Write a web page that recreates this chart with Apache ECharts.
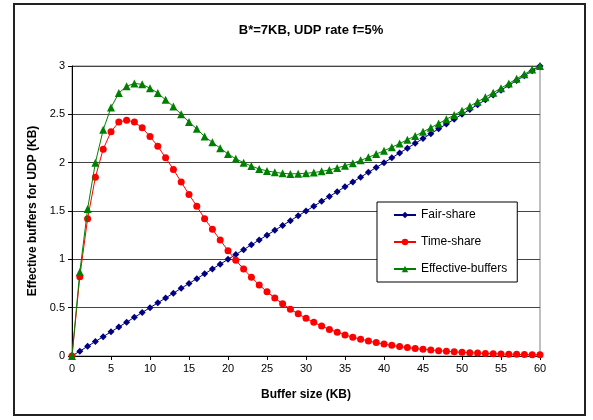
<!DOCTYPE html>
<html><head><meta charset="utf-8">
<script src="https://cdn.jsdelivr.net/npm/echarts@6/dist/echarts.min.js"></script>
<style>html,body{margin:0;padding:0;background:#fff}#c{width:593px;height:420px}</style>
</head><body><div id="c"></div>
<script>
var bufferSize = [0,1,2,3,4,5,6,7,8,9,10,11,12,13,14,15,16,17,18,19,20,21,22,23,24,25,26,27,28,29,30,31,32,33,34,35,36,37,38,39,40,41,42,43,44,45,46,47,48,49,50,51,52,53,54,55,56,57,58,59,60];
var fairShare = [0,0.05,0.1,0.15,0.2,0.25,0.3,0.35,0.4,0.45,0.5,0.55,0.6,0.65,0.7,0.75,0.8,0.85,0.9,0.95,1.0,1.05,1.1,1.15,1.2,1.25,1.3,1.35,1.4,1.45,1.5,1.55,1.6,1.65,1.7,1.75,1.8,1.85,1.9,1.95,2.0,2.05,2.1,2.15,2.2,2.25,2.3,2.35,2.4,2.45,2.5,2.55,2.6,2.65,2.7,2.75,2.8,2.85,2.9,2.95,3.0];
var timeShare = [0,0.82,1.42,1.85,2.14,2.32,2.42,2.44,2.42,2.36,2.27,2.17,2.05,1.93,1.80,1.67,1.55,1.42,1.31,1.20,1.09,0.99,0.90,0.815,0.735,0.665,0.60,0.54,0.484,0.436,0.39,0.348,0.31,0.275,0.246,0.218,0.194,0.174,0.155,0.139,0.123,0.110,0.097,0.087,0.077,0.069,0.062,0.055,0.049,0.043,0.038,0.034,0.030,0.027,0.024,0.021,0.019,0.017,0.015,0.013,0.012];
var effectiveBuffers = [0,0.87,1.52,2.00,2.34,2.57,2.72,2.79,2.82,2.81,2.77,2.72,2.65,2.58,2.50,2.42,2.35,2.27,2.21,2.15,2.09,2.04,2.00,1.965,1.935,1.915,1.90,1.89,1.884,1.886,1.89,1.898,1.91,1.925,1.946,1.968,1.994,2.024,2.055,2.089,2.123,2.16,2.197,2.237,2.277,2.319,2.362,2.405,2.449,2.493,2.538,2.584,2.63,2.677,2.724,2.771,2.819,2.867,2.915,2.963,3.0];
var seriesNames = ['Fair-share','Time-share','Effective-buffers'];
var titleText = 'B*=7KB, UDP rate f=5%';
var xName = 'Buffer size (KB)';
var yName = 'Effective buffers for UDP (KB)';

function pairs(ys){ return bufferSize.map(function(x,i){return [x, ys[i]];}); }
var FONT = '"Liberation Sans", Arial, sans-serif';
var chart = echarts.init(document.getElementById('c'), null, {renderer:'canvas'});
chart.setOption({
  animation:false,
  backgroundColor:'#fff',
  title:{text:titleText,left:306,textAlign:'center',top:19,
    textStyle:{fontFamily:FONT,fontSize:13,fontWeight:'bold',color:'#000'}},
  graphic:[{type:'rect',shape:{x:14,y:4,width:571,height:411},
    style:{fill:'none',stroke:'#222',lineWidth:2},silent:true}],
  grid:{left:72,right:53,top:66,bottom:64,show:true,borderColor:'#808080',borderWidth:1},
  legend:{orient:'vertical',left:377,top:202,width:140,height:80,
    padding:[7,10,7,16],itemGap:15,itemWidth:22,itemHeight:8,
    backgroundColor:'#fff',borderColor:'#000',borderWidth:1,
    textStyle:{fontFamily:FONT,fontSize:12,color:'#000',width:100},
    data:seriesNames},
  xAxis:{type:'value',min:0,max:60,interval:5,name:xName,nameLocation:'middle',nameGap:33,
    nameTextStyle:{fontFamily:FONT,fontSize:12,fontWeight:'bold',color:'#000'},
    axisLine:{lineStyle:{color:'#000',width:1}},
    axisTick:{show:true,length:4,lineStyle:{color:'#000'}},
    axisLabel:{fontFamily:FONT,fontSize:11,color:'#000',margin:7},
    splitLine:{show:false}},
  yAxis:{type:'value',min:0,max:3,interval:0.5,name:yName,nameLocation:'middle',nameGap:30,
    nameTextStyle:{fontFamily:FONT,fontSize:12,fontWeight:'bold',color:'#000'},
    axisLine:{show:true,lineStyle:{color:'#000',width:1}},
    axisTick:{show:true,length:4,lineStyle:{color:'#000'}},
    axisLabel:{fontFamily:FONT,fontSize:11,color:'#000',margin:7},
    splitLine:{show:true,lineStyle:{color:'#444',width:1}}},
  series:[
    {name:seriesNames[0],type:'line',data:pairs(fairShare),symbol:'diamond',symbolSize:7,
      itemStyle:{color:'#000080'},lineStyle:{color:'#000080',width:1},z:3},
    {name:seriesNames[1],type:'line',data:pairs(timeShare),symbol:'circle',symbolSize:7,
      itemStyle:{color:'#FF0000'},lineStyle:{color:'#FF0000',width:1},z:4},
    {name:seriesNames[2],type:'line',data:pairs(effectiveBuffers),symbol:'triangle',symbolSize:8,
      itemStyle:{color:'#008000'},lineStyle:{color:'#008000',width:1},z:5}
  ]
});
</script></body></html>
